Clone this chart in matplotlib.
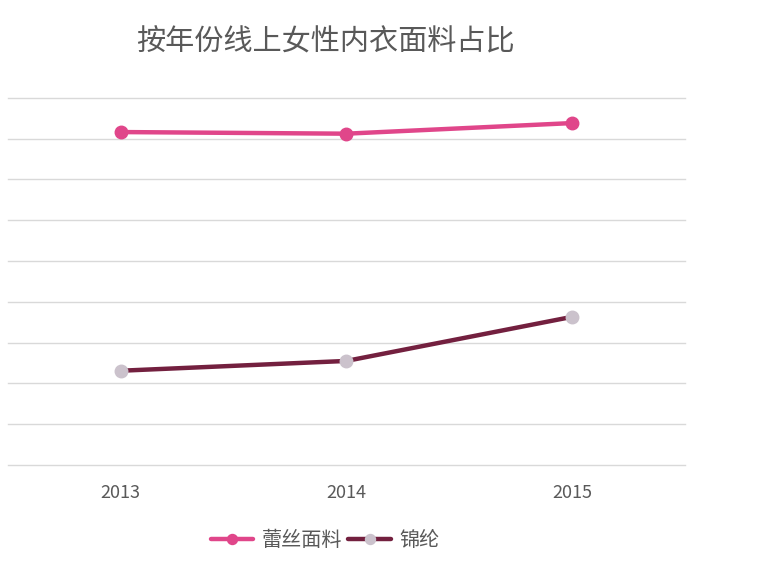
import numpy as np
import matplotlib.pyplot as plt

plt.rcParams['font.family'] = ['Noto Sans CJK SC', 'DejaVu Sans']

# 数据（按图中网格读出的近似值）
years = ['2013', '2014', '2015']
lace = [8.16, 8.12, 8.38]     # 蕾丝面料
nylon = [2.31, 2.55, 3.63]    # 锦纶
title = '按年份线上女性内衣面料占比'

fig = plt.figure(figsize=(7.6, 5.81), dpi=100)
ax = fig.add_axes([0.0105, 0.1997, 0.8905, 0.632])

x = np.arange(len(years))
ax.plot(x, lace, color='#e0468a', lw=3.2, marker='o', ms=9,
        mfc='#e0468a', mec='#e0468a', label='蕾丝面料', solid_capstyle='round', zorder=3)
ax.plot(x, nylon, color='#73203f', lw=3.2, marker='o', ms=9,
        mfc='#cbc2cc', mec='#cbc2cc', label='锦纶', solid_capstyle='round', zorder=3)

ax.set_xlim(-0.5, 2.5)
ax.set_ylim(0, 9)
ax.set_yticks(np.arange(0, 10))
ax.set_yticklabels([])
ax.set_xticks(x)
ax.set_xticklabels(years, fontsize=13, color='#595959')
ax.tick_params(axis='both', length=0)
ax.tick_params(axis='x', pad=14)
ax.grid(axis='y', color='#d9d9d9', lw=1)
for gl in ax.get_ygridlines():
    gl.set_clip_on(False)
ax.set_axisbelow(True)
for s in ax.spines.values():
    s.set_visible(False)

fig.text(0.428, 0.927, title, ha='center', va='center', fontsize=21, color='#595959')

leg = fig.legend(loc='center', bbox_to_anchor=(0.428, 0.07), ncol=2, frameon=False,
                 fontsize=14.5, handlelength=2.1, handletextpad=0.45, columnspacing=0.3,
                 labelcolor='#595959', markerscale=0.8)

fig.savefig('out.png', dpi=100)
